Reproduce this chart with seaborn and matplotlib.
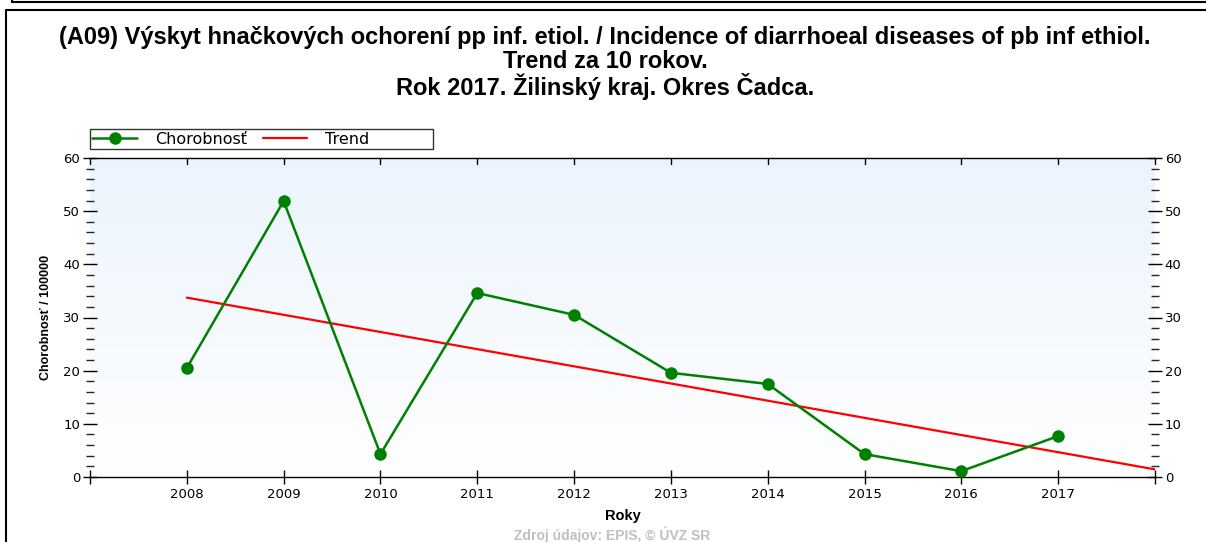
"""Incidence of diarrhoeal diseases, Čadca district, 10-year trend."""

import numpy as np
import pandas as pd
import matplotlib
matplotlib.use('Agg')
import matplotlib.pyplot as plt
from matplotlib.colors import LinearSegmentedColormap
from matplotlib.lines import Line2D
from matplotlib.ticker import MultipleLocator
import seaborn as sns

# data
years = [2008, 2009, 2010, 2011, 2012, 2013, 2014, 2015, 2016, 2017]
incidence = [20.5, 51.9, 4.3, 34.6, 30.5, 19.6, 17.5, 4.3, 1.1, 7.7]
trend_years = [2008, 2018]

title_lines = [
    "(A09) Výskyt hnačkových ochorení pp inf. etiol. / Incidence of diarrhoeal diseases of pb inf ethiol.",
    "Trend za 10 rokov.",
    "Rok 2017. Žilinský kraj. Okres Čadca.",
]

sns.set_theme(style='ticks')
plt.rcParams['font.family'] = ['DejaVu Sans']
plt.rcParams['text.color'] = 'black'
plt.rcParams['axes.labelcolor'] = 'black'

W, H = 1206, 542
fig = plt.figure(figsize=(W / 100, H / 100), dpi=100)
ax = fig.add_axes([90 / W, 1 - 477 / H, (1155 - 90) / W, (477 - 158) / H])

# light blue gradient background
cmap = LinearSegmentedColormap.from_list('bg', ['#ffffff', '#ebf4fd'])
grad = np.linspace(0, 1, 256).reshape(-1, 1)
ax.imshow(grad, extent=[2007, 2018, 0, 60], aspect='auto', cmap=cmap,
          origin='lower', zorder=0)

df = pd.DataFrame({'year': years, 'value': incidence})
slope, intercept = np.polyfit(years, incidence, 1)
trend_df = pd.DataFrame({'year': trend_years,
                         'value': [slope * y + intercept for y in trend_years]})

sns.lineplot(data=trend_df, x='year', y='value', ax=ax, color='#ff0000',
             linewidth=1.6, label='Trend', zorder=3)
sns.lineplot(data=df, x='year', y='value', ax=ax, color='#008000',
             linewidth=1.8, marker='o', markersize=9, markeredgewidth=0,
             label='Chorobnosť', zorder=4)

ax.set_xlim(2007, 2018)
ax.set_ylim(0, 60)
ax.set_xticks(range(2007, 2019))
ax.set_xticklabels([''] + [str(y) for y in years] + [''])
ax.yaxis.set_major_locator(MultipleLocator(10))
ax.yaxis.set_minor_locator(MultipleLocator(2))
ax.tick_params(axis='y', which='major', direction='inout', length=10, width=1,
               labelsize=9.5, left=True, right=True, labelleft=True, labelright=True,
               colors='black', pad=2)
ax.tick_params(axis='y', which='minor', direction='inout', length=6, width=1,
               left=True, right=True)
ax.tick_params(axis='x', which='major', direction='inout', length=10, width=1,
               labelsize=9.5, bottom=True, top=False, colors='black', pad=3)
for y in range(2007, 2019):
    ax.plot([y, y], [60, 60 - 60 * 6 / 319], color='black', lw=1, zorder=5,
            clip_on=False)

for s in ax.spines.values():
    s.set_color('black')
    s.set_linewidth(1)
ax.spines['left'].set_visible(False)
ax.spines['right'].set_visible(False)
ax.spines['top'].set_visible(True)

ax.set_xlabel('Roky', fontsize=10.5, fontweight='bold',
              family='Liberation Sans', labelpad=6)
ax.set_ylabel('Chorobnosť / 100000', fontsize=9, fontweight='bold',
              family='Liberation Sans', labelpad=8)

handles, labels = ax.get_legend_handles_labels()
order = [labels.index('Chorobnosť'), labels.index('Trend')]
leg = ax.legend([handles[i] for i in order],
                ['Chorobnosť', 'Trend' + ' ' * 12],
                loc='lower left', bbox_to_anchor=(0, 1.028), borderaxespad=0,
                ncol=2, frameon=True, fancybox=False, edgecolor='black',
                fontsize=11.5, handlelength=2.8, columnspacing=1.0,
                borderpad=0.15, handletextpad=1.1)
leg.get_frame().set_linewidth(1)

title_y = [38, 62, 87]
for txt, yy in zip(title_lines, title_y):
    fig.text(0.5 + 2 / W, 1 - yy / H, txt, ha='center', va='center',
             fontsize=17, fontweight='bold', family='Liberation Sans',
             color='black')

fig.text(612 / W, 1 - 535 / H, 'Zdroj údajov: EPIS, © ÚVZ SR', ha='center',
         va='center', fontsize=10, fontweight='bold', color='#c0c0c0',
         family='Liberation Sans')

# outer frames
fig.add_artist(Line2D([6 / W, 6 / W], [0, 1 - 10 / H], color='black', lw=1.5,
                      transform=fig.transFigure))
fig.add_artist(Line2D([6 / W, 1], [1 - 10 / H, 1 - 10 / H], color='black',
                      lw=1.5, transform=fig.transFigure))
fig.add_artist(Line2D([12 / W, 1], [1 - 2 / H, 1 - 2 / H], color='black',
                      lw=1.5, transform=fig.transFigure))
fig.add_artist(Line2D([12 / W, 12 / W], [1 - 2 / H, 1], color='black',
                      lw=1.5, transform=fig.transFigure))

fig.savefig('out.png', dpi=100)
